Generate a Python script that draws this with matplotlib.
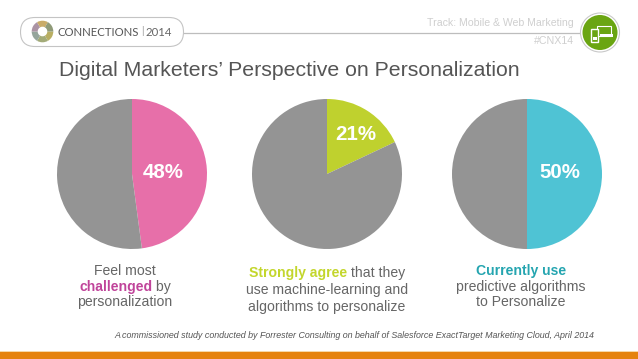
import matplotlib
matplotlib.use("Agg")
import matplotlib.pyplot as plt
from matplotlib.patches import FancyBboxPatch, Circle, Rectangle, Wedge

W, H = 638, 359
plt.rcParams['font.family'] = ['Liberation Sans', 'DejaVu Sans']

# wedge sizes as drawn in the picture (the 21% slice is drawn smaller than its label)
pie_shares = [47.9, 18.0, 50]
pie_labels = ["48%", "21%", "50%"]
pie_colors = ["#e76fa9", "#bfd12e", "#4fc3d4"]
rest_color = "#949494"
pie_centers = [(132, 174), (327, 174), (527, 174)]
label_pos = [(163, 173), (355.5, 134.5), (560, 173)]

title = "Digital Marketers\u2019 Perspective on Personalization"
track = "Track: Mobile & Web Marketing"
hashtag = "#CNX14"
footnote = ("A commissioned study conducted by Forrester Consulting on behalf of "
            "Salesforce ExactTarget Marketing Cloud, April 2014")

captions = [
    (125, [(271, [("Feel most", "#666666", "normal")]),
           (287, [("challenged", "#c0449a", "bold"), (" by", "#666666", "normal")]),
           (302, [("personalization", "#666666", "normal")])]),
    (327, [(273, [("Strongly agree", "#c3d62c", "bold"), (" that they", "#666666", "normal")]),
           (290, [("use machine-learning and", "#666666", "normal")]),
           (307, [("algorithms to personalize", "#666666", "normal")])]),
    (521, [(271, [("Currently use", "#25a5b0", "bold")]),
           (287, [("predictive algorithms", "#666666", "normal")]),
           (302, [("to Personalize", "#666666", "normal")])]),
]

fig = plt.figure(figsize=(W / 100, H / 100), dpi=100, facecolor="white")
bg = fig.add_axes([0, 0, 1, 1])
bg.set_xlim(0, W)
bg.set_ylim(H, 0)
bg.axis("off")

# header
bg.plot([183, 582], [32.5, 32.5], color="#bdbdbd", lw=0.9, zorder=1)
bg.add_patch(FancyBboxPatch((20.5, 17.5), 163, 29, boxstyle="round,pad=0,rounding_size=14.5",
                            fc="white", ec="#c4c4c4", lw=0.8, zorder=2))
ring = ["#b8ae62", "#a3ab78", "#95a59c", "#ab93a4", "#c9ab68", "#8f9a78"]
for i, c in enumerate(ring):
    bg.add_patch(Wedge((42.5, 31.5), 10.8, i * 60, (i + 1) * 60, width=6, fc=c, ec="none", zorder=3))
bg.text(57, 32, "CONNECTIONS", fontsize=8.2, color="#555555", va="center", ha="left",
        family=["Lato", "DejaVu Sans"], zorder=3)
bg.text(142.3, 31.5, "|", fontsize=7.5, color="#aaaaaa", va="center", ha="center", zorder=3)
bg.text(145.7, 32, "2014", fontsize=8.2, color="#666666", va="center", ha="left",
        family=["Lato", "DejaVu Sans"], zorder=3)

bg.text(574, 22.5, track, fontsize=7.55, color="#cfcfcf", ha="right", va="center")
bg.text(574, 40.5, hashtag, fontsize=7.7, color="#cfcfcf", ha="right", va="center")

# track icon
bg.add_patch(Circle((600, 32.5), 19.5, fc="white", ec="#c9c9c9", lw=0.8, zorder=3))
bg.add_patch(Circle((600, 32.5), 17.5, fc="#6aa512", ec="none", zorder=4))
bg.add_patch(Rectangle((596.5, 26), 14, 10, fc="none", ec="white", lw=0.8, zorder=5))
bg.add_patch(Rectangle((600, 33.5), 13, 3.5, fc="white", ec="none", zorder=5))
bg.add_patch(Rectangle((591, 28.5), 7.2, 13, fc="#6aa512", ec="white", lw=1.0, zorder=6))
bg.add_patch(Rectangle((592.5, 37), 4.2, 3, fc="white", ec="none", zorder=7))

bg.text(59, 71, title, fontsize=15.27, color="#555555", ha="left", va="center")

# pies
for share, lab, col, (cx, cy), (lx, ly) in zip(pie_shares, pie_labels, pie_colors,
                                               pie_centers, label_pos):
    r = 75
    ax = fig.add_axes([(cx - r) / W, 1 - (cy + r) / H, 2 * r / W, 2 * r / H])
    ax.pie([share, 100 - share], colors=[col, rest_color], startangle=90,
           counterclock=False, radius=1.0, wedgeprops={"linewidth": 0})
    ax.set_xlim(-1, 1)
    ax.set_ylim(-1, 1)
    ax.text((lx - cx) / r, -(ly - cy) / r, lab, fontsize=14.8, fontweight="bold",
            color="white", ha="center", va="center", zorder=10)

# captions with mixed runs
fig.canvas.draw()
rend = fig.canvas.get_renderer()
for cx, lines in captions:
    for y, runs in lines:
        arts = [bg.text(0, y, t, fontsize=10.1, color=c, fontweight=w, va="center", ha="left")
                for t, c, w in runs]
        widths = []
        for a, (t, c, w) in zip(arts, runs):
            probe = bg.text(0, 0, t.replace(" ", "\u00a0"), fontsize=10.1, fontweight=w)
            widths.append(probe.get_window_extent(rend).width)
            probe.remove()
        x = cx - sum(widths) / 2
        for a, wd in zip(arts, widths):
            a.set_x(x)
            x += wd

bg.text(114, 335.5, footnote, fontsize=6.38, style="italic", color="#555555",
        ha="left", va="center")

# bottom band
bg.add_patch(Rectangle((0, 352), W, 7, fc="#e5830e", ec="none"))
bg.add_patch(Rectangle((0, 351), W, 1, fc="#f6d9a8", ec="none"))

fig.savefig("out.png", dpi=100, facecolor="white")
